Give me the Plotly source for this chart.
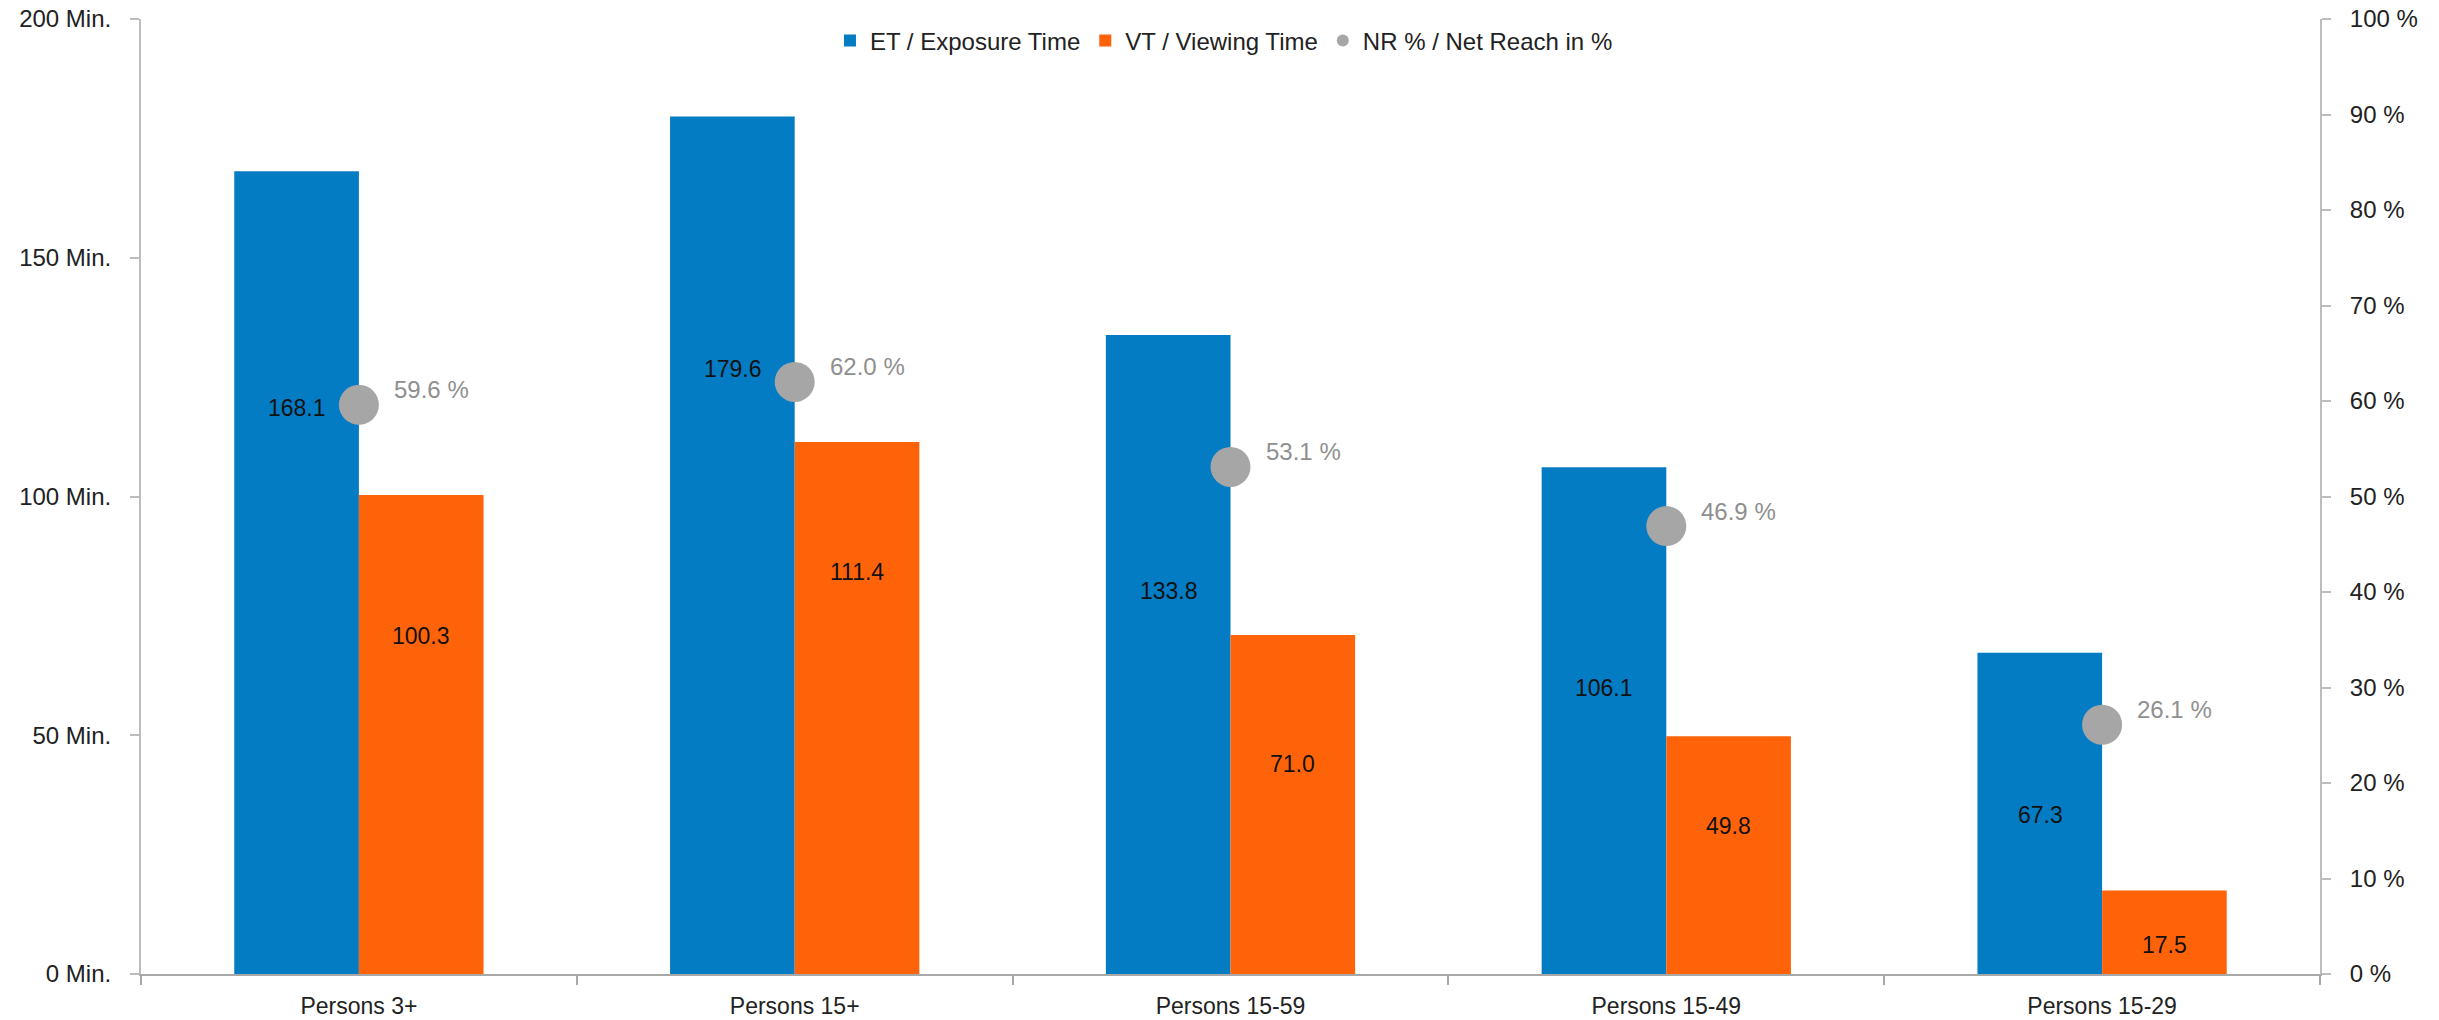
import plotly.graph_objects as go

# ---- data ----
categories = ["Persons 3+", "Persons 15+", "Persons 15-59", "Persons 15-49", "Persons 15-29"]
et_minutes = [168.1, 179.6, 133.8, 106.1, 67.3]
vt_minutes = [100.3, 111.4, 71.0, 49.8, 17.5]
nr_percent = [59.6, 62.0, 53.1, 46.9, 26.1]

left_ticks = [0, 50, 100, 150, 200]
right_ticks = [0, 10, 20, 30, 40, 50, 60, 70, 80, 90, 100]

# label placement (left-axis units) as in the original layout
et_label_y = [118.6, 126.8, 80.2, 59.9, 33.4]
vt_label_y = [70.7, 84.2, 44.0, 31.0, 6.1]

BLUE = "#037CC4"
ORANGE = "#FF6309"
GREY = "#A6A6A6"
FONT = "Liberation Sans, Arial, sans-serif"
FS = 23

fig = go.Figure()
fig.add_trace(go.Bar(name="ET / Exposure Time", x=categories, y=et_minutes,
                     marker=dict(color=BLUE, line=dict(width=0)), hoverinfo="skip"))
fig.add_trace(go.Bar(name="VT / Viewing Time", x=categories, y=vt_minutes,
                     marker=dict(color=ORANGE, line=dict(width=0)), hoverinfo="skip"))
fig.add_trace(go.Scatter(name="NR % / Net Reach in %", x=categories, y=nr_percent,
                         yaxis="y2", mode="markers",
                         marker=dict(color=GREY, size=40, line=dict(width=0)),
                         hoverinfo="skip"))

annotations = []
for c, v, ly in zip(categories, et_minutes, et_label_y):
    annotations.append(dict(x=c, y=ly, xref="x", yref="y", text=f"{v:.1f}",
                            showarrow=False, xshift=-62,
                            font=dict(family=FONT, size=FS, color="#111111")))
for c, v, ly in zip(categories, vt_minutes, vt_label_y):
    annotations.append(dict(x=c, y=ly, xref="x", yref="y", text=f"{v:.1f}",
                            showarrow=False, xshift=62,
                            font=dict(family=FONT, size=FS, color="#111111")))
for c, v in zip(categories, nr_percent):
    annotations.append(dict(x=c, y=v, xref="x", yref="y2", text=f"{v:.1f} %",
                            showarrow=False, xanchor="left", xshift=33, yshift=15,
                            font=dict(family=FONT, size=24, color="#8F8F8F")))

fig.update_layout(
    width=2439, height=1020,
    margin=dict(l=141, r=119, t=19, b=46, pad=0, autoexpand=False),
    paper_bgcolor="white", plot_bgcolor="white",
    font=dict(family=FONT, size=FS, color="#222222"),
    barmode="group", bargap=0.428, bargroupgap=0,
    showlegend=True,
    legend=dict(orientation="h", x=0.497, xanchor="center", y=0.977, yanchor="middle",
                bgcolor="rgba(0,0,0,0)", font=dict(family=FONT, size=24, color="#222222"),
                itemsizing="constant", traceorder="normal", itemwidth=30),
    xaxis=dict(showline=True, linecolor="#A8A8A8", linewidth=2, automargin=False,
               ticks="outside", tickson="boundaries", ticklen=9, tickcolor="#A8A8A8",
               tickwidth=2, showgrid=False, zeroline=False, ticklabelstandoff=10,
               tickfont=dict(family=FONT, size=FS, color="#222222")),
    yaxis=dict(range=[0, 200], tickvals=left_ticks, automargin=False,
               ticktext=[f"{t} Min." for t in left_ticks],
               showline=True, linecolor="#BDBDBD", linewidth=2,
               ticks="outside", ticklen=9, tickcolor="#BDBDBD", tickwidth=2,
               showgrid=False, zeroline=False, ticklabelstandoff=14,
               tickfont=dict(family=FONT, size=24, color="#222222")),
    yaxis2=dict(range=[0, 100], tickvals=right_ticks, automargin=False,
                ticktext=[f"{t} %" for t in right_ticks],
                overlaying="y", side="right",
                showline=True, linecolor="#BDBDBD", linewidth=2,
                ticks="outside", ticklen=9, tickcolor="#BDBDBD", tickwidth=2,
                showgrid=False, zeroline=False, ticklabelstandoff=14,
                tickfont=dict(family=FONT, size=24, color="#222222")),
    annotations=annotations,
)

fig.write_html("out.html")
